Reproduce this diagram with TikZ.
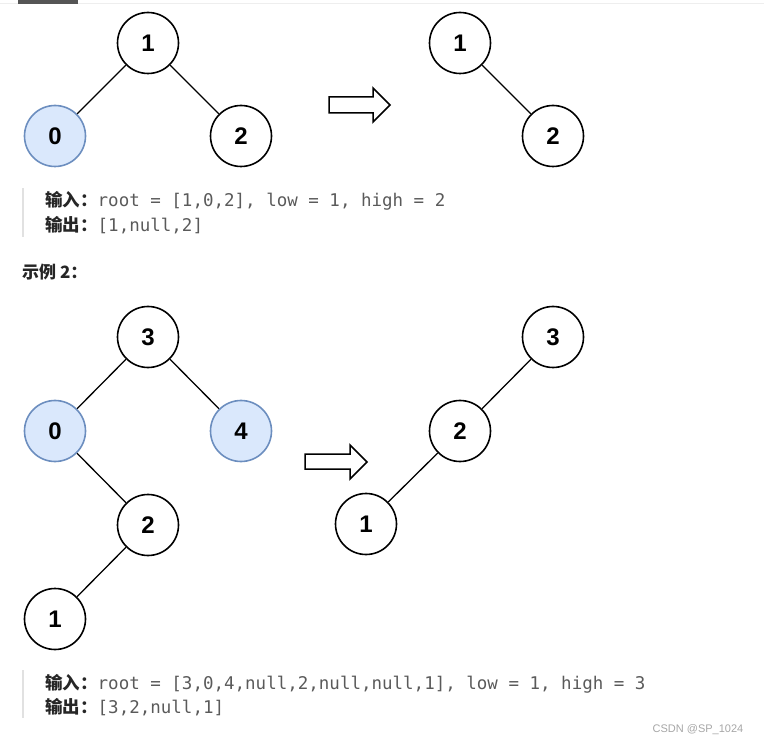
\documentclass[tikz,border=0pt]{standalone}
\usepackage{fontspec}
\usepackage{tikz}
\usepackage{xcolor}
\setmainfont{Liberation Sans}
\setmonofont{DejaVu Sans Mono}
\newfontfamily\cjk{Noto Sans CJK SC}
\usetikzlibrary{positioning}
\definecolor{btblue}{RGB}{108,142,191}
\definecolor{btlight}{RGB}{218,232,252}
\definecolor{btcode}{RGB}{90,90,90}
\definecolor{btlabel}{RGB}{38,38,38}
\definecolor{btquote}{RGB}{225,225,225}
\definecolor{btrule}{RGB}{238,238,238}
\definecolor{bttab}{RGB}{85,85,85}
\tikzset{
  btnode/.style={draw=black, line width=1.6pt, circle, fill=white, minimum size=61pt, inner sep=0pt, font=\fontsize{24}{24}\selectfont\bfseries},
  btnodeblue/.style={btnode, draw=btblue, fill=btlight},
  btedge/.style={draw=black, line width=1.3pt},
  btarrow/.style={draw=black, line width=1.5pt, fill=white, line join=miter},
  btline/.style={anchor=base west, inner sep=0pt, text=btcode, font=\fontsize{17.5}{20}\selectfont\ttfamily},
  btkey/.style={text=btlabel, font=\fontsize{17}{20}\selectfont\cjk\bfseries},
  btquotebar/.style={draw=btquote, line width=2pt}
}

\begin{document}
\begin{tikzpicture}[x=1pt, y=-1pt]
  \useasboundingbox (0,0) rectangle (764,746);
  % page decoration
  \draw[btrule, line width=1pt] (0,4) -- (764,4);
  \fill[bttab] (18,0) rectangle (78,4);

  % example 1: before
  \node[btnode] (a1) at (148,43) {1};
  \node[btnodeblue] (a0) at (55,136) {0};
  \node[btnode] (a2) at (241,136) {2};
  \draw[btedge] (a1) -- (a0);
  \draw[btedge] (a1) -- (a2);
  % example 1: after
  \node[btnode] (b1) at (460,43) {1};
  \node[btnode] (b2) at (553,136) {2};
  \draw[btedge] (b1) -- (b2);
  \draw[btarrow] (329,97) -- (373,97) -- (373,88) -- (390,105) -- (373,122) -- (373,113) -- (329,113) -- cycle;

  % example 1: text
  \draw[btquotebar] (23,188) -- (23,237);
  \node[btline] (in1) at (45,207) {{\cjk\bfseries\color{btlabel}输入：}root = [1,0,2], low = 1, high = 2};
  \node[btline] (out1) at (45,232) {{\cjk\bfseries\color{btlabel}输出：}[1,null,2]};
  \node[btkey, anchor=base west, inner sep=0pt] (ex2) at (22,279) {示例 2：};

  % example 2: before
  \node[btnode] (c3) at (148,337) {3};
  \node[btnodeblue] (c0) at (55,431) {0};
  \node[btnodeblue] (c4) at (241,431) {4};
  \node[btnode] (c2) at (148,525) {2};
  \node[btnode] (c1) at (55,619) {1};
  \draw[btedge] (c3) -- (c0);
  \draw[btedge] (c3) -- (c4);
  \draw[btedge] (c0) -- (c2);
  \draw[btedge] (c2) -- (c1);
  % example 2: after
  \node[btnode] (d3) at (553,337) {3};
  \node[btnode] (d2) at (460,431) {2};
  \node[btnode] (d1) at (366,524) {1};
  \draw[btedge] (d3) -- (d2);
  \draw[btedge] (d2) -- (d1);
  \draw[btarrow] (305,454) -- (350,454) -- (350,445) -- (367,462) -- (350,479) -- (350,469) -- (305,469) -- cycle;

  % example 2: text
  \draw[btquotebar] (23,670) -- (23,718);
  \node[btline] (in2) at (45,689) {{\cjk\bfseries\color{btlabel}输入：}root = [3,0,4,null,2,null,null,1], low = 1, high = 3};
  \node[btline] (out2) at (45,713) {{\cjk\bfseries\color{btlabel}输出：}[3,2,null,1]};

  \node[text=gray!70, font=\fontsize{11}{11}\selectfont] (mark) at (698,730) {CSDN @SP\_1024};
\end{tikzpicture}
\end{document}
